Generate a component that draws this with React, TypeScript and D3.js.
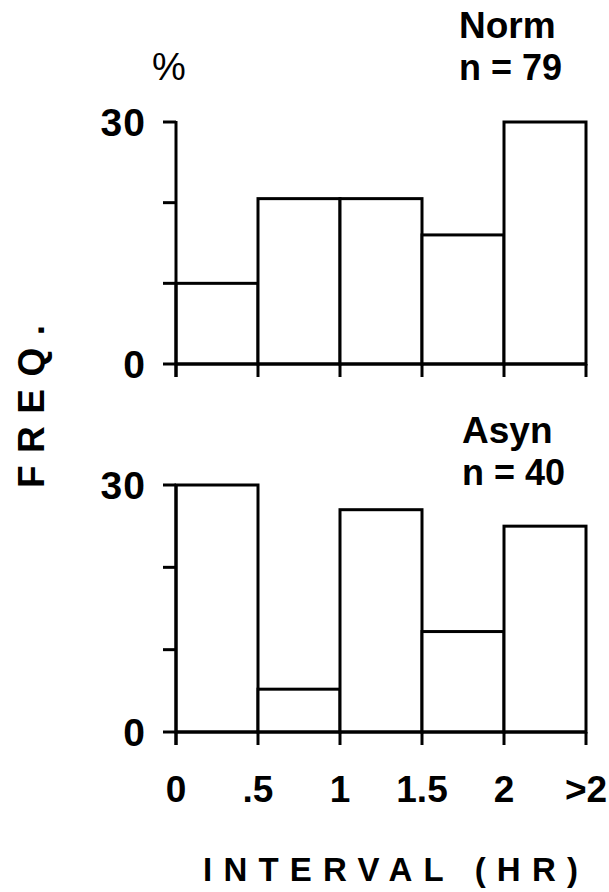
import React from "react";
import * as d3 from "d3";

const binEdges = ["0", ".5", "1", "1.5", "2", ">2"];
const normValues = [10, 20.5, 20.5, 16, 30];
const asynValues = [30, 5.2, 27, 12.2, 25];
const yTicks = [0, 10, 20, 30];
const yTickLabels = [0, 30];

const W = 609;
const H = 892;
const FONT = "'Liberation Sans', Arial, Helvetica, sans-serif";

type PanelProps = {
  values: number[];
  y0: number;
  y30: number;
  name: string;
  n: string;
  nameX: number;
  nameY: number;
  showXLabels: boolean;
};

const x = d3.scaleLinear().domain([0, 5]).range([176, 586]);

function Panel({ values, y0, y30, name, n, nameX, nameY, showXLabels }: PanelProps) {
  const y = d3.scaleLinear().domain([0, 30]).range([y0, y30]);
  const sw = 3;
  return (
    <g>
      {values.map((v, i) => (
        <rect
          key={i}
          x={x(i)}
          y={y(v)}
          width={x(i + 1) - x(i)}
          height={y(0) - y(v)}
          fill="white"
          stroke="black"
          strokeWidth={sw}
        />
      ))}
      <line x1={x(0)} x2={x(0)} y1={y(30) - 1} y2={y(0) + 13} stroke="black" strokeWidth={sw} />
      {yTicks.map((t) => (
        <line key={t} x1={x(0) - 13} x2={x(0)} y1={y(t)} y2={y(t)} stroke="black" strokeWidth={sw} />
      ))}
      <line x1={x(0)} x2={x(5)} y1={y(0)} y2={y(0)} stroke="black" strokeWidth={sw} />
      {binEdges.map((_, i) => (
        <line key={i} x1={x(i)} x2={x(i)} y1={y(0)} y2={y(0) + 13} stroke="black" strokeWidth={sw} />
      ))}
      {yTickLabels.map((t) => (
        <text
          key={t}
          x={146}
          y={y(t)}
          dy="0.36em"
          textAnchor="end"
          fontFamily={FONT}
          fontWeight="bold"
          fontSize={39}
          letterSpacing={1}
        >
          {t}
        </text>
      ))}
      <text x={nameX} y={nameY} fontFamily={FONT} fontWeight="bold" fontSize={37}>
        {name}
      </text>
      <text x={nameX} y={nameY + 42} fontFamily={FONT} fontWeight="bold" fontSize={37} textLength={103} lengthAdjust="spacingAndGlyphs">
        {n}
      </text>
      {showXLabels &&
        binEdges.map((lab, i) => (
          <text
            key={lab}
            x={x(i)}
            y={y(0) + 70}
            textAnchor="middle"
            fontFamily={FONT}
            fontWeight="bold"
            fontSize={37}
          >
            {lab}
          </text>
        ))}
    </g>
  );
}

export default function App() {
  return (
    <svg
      width={W}
      height={H}
      viewBox={`0 0 ${W} ${H}`}
      style={{ position: "absolute", left: 0, top: 0, background: "white", display: "block" }}
    >
      <rect x={0} y={0} width={W} height={H} fill="white" />
      <text x={169} y={80} textAnchor="middle" fontFamily={FONT} fontSize={38}>
        %
      </text>
      <Panel
        values={normValues}
        y0={364}
        y30={122}
        name="Norm"
        n="n = 79"
        nameX={459}
        nameY={38}
        showXLabels={false}
      />
      <Panel
        values={asynValues}
        y0={732}
        y30={485}
        name="Asyn"
        n="n = 40"
        nameX={462}
        nameY={443}
        showXLabels={true}
      />
      <text
        transform="translate(44,488) rotate(-90)"
        fontFamily={FONT}
        fontWeight="bold"
        fontSize={37}
        textLength={163}
        lengthAdjust="spacing"
      >
        FREQ.
      </text>
      <text
        x={203}
        y={881}
        fontFamily={FONT}
        fontWeight="bold"
        fontSize={33}
        textLength={375}
        lengthAdjust="spacing"
      >
        INTERVAL (HR)
      </text>
    </svg>
  );
}
